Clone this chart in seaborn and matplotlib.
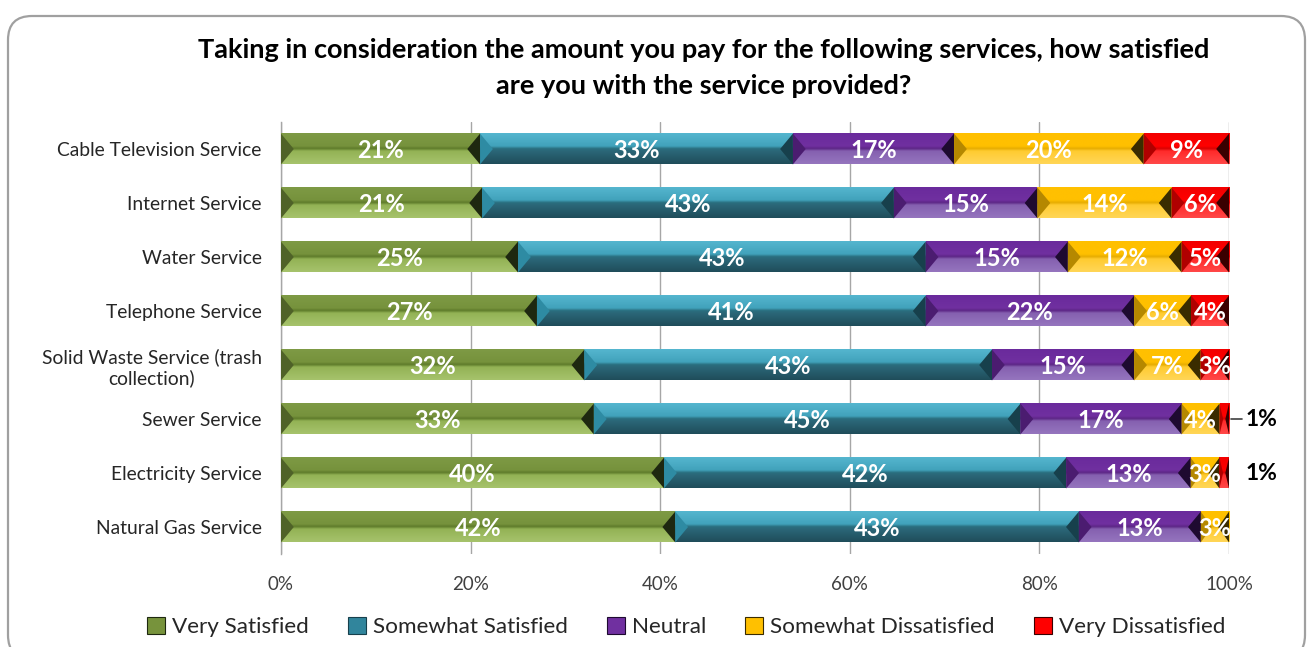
import numpy as np
import pandas as pd
import matplotlib
matplotlib.use("Agg")
import matplotlib.pyplot as plt
import seaborn as sns
from matplotlib.colors import LinearSegmentedColormap
from matplotlib.patches import Polygon, FancyBboxPatch, Patch

# ---------------- data ----------------
services = [
    "Cable Television Service",
    "Internet Service",
    "Water Service",
    "Telephone Service",
    "Solid Waste Service (trash\ncollection)",
    "Sewer Service",
    "Electricity Service",
    "Natural Gas Service",
]
series_names = ["Very Satisfied", "Somewhat Satisfied", "Neutral",
                "Somewhat Dissatisfied", "Very Dissatisfied"]
very_satisfied = [21, 21, 25, 27, 32, 33, 40, 42]
somewhat_satisfied = [33, 43, 43, 41, 43, 45, 42, 43]
neutral = [17, 15, 15, 22, 15, 17, 13, 13]
somewhat_dissatisfied = [20, 14, 12, 6, 7, 4, 3, 3]
very_dissatisfied = [9, 6, 5, 4, 3, 1, 1, 0]
x_ticks = [0, 20, 40, 60, 80, 100]
x_tick_labels = ["0%", "20%", "40%", "60%", "80%", "100%"]
title = ("Taking in consideration the amount you pay for the following services, how satisfied\n"
         "are you with the service provided?")

# ---------------- styles ----------------
styles = [
    dict(grad=["#7E9A45", "#76923C", "#5E7A2A", "#93B255", "#A6C36C"], left="#4F6228", right="#1E2810", main="#77933C"),
    dict(grad=["#55B6CF", "#41A2BB", "#2A6F80", "#2B6778", "#1F4D5A"], left="#2E8BA3", right="#17404C", main="#31859C"),
    dict(grad=["#6A2A9C", "#7030A0", "#5C2585", "#8560B0", "#9575BE"], left="#4B1C70", right="#1E0A30", main="#7030A0"),
    dict(grad=["#FFC000", "#FFC000", "#E6AC00", "#FFCB30", "#FFD658"], left="#B58800", right="#3A2C00", main="#FFC000"),
    dict(grad=["#F20000", "#FF0000", "#D80000", "#FF2A2A", "#FF4848"], left="#B00000", right="#3A0000", main="#FF0000"),
]

sns.set_theme(style="white")
plt.rcParams["font.family"] = ["Lato", "DejaVu Sans"]

df = pd.DataFrame({
    "service": services,
    series_names[0]: very_satisfied,
    series_names[1]: somewhat_satisfied,
    series_names[2]: neutral,
    series_names[3]: somewhat_dissatisfied,
    series_names[4]: very_dissatisfied,
})
vals = df[series_names].to_numpy(dtype=float)
pct = vals / vals.sum(axis=1, keepdims=True) * 100.0
cum = np.cumsum(pct, axis=1)

W, H = 1314, 647
fig = plt.figure(figsize=(W / 100, H / 100), dpi=100)
fig.patch.set_facecolor("white")
ax = fig.add_axes([281 / W, 1 - 554 / H, 948 / W, 432 / H])

bar_h = 0.57
# stacked bars with seaborn: overlay cumulative totals, largest first
for i in reversed(range(len(series_names))):
    d = pd.DataFrame({"service": services, "cum": cum[:, i]})
    sns.barplot(data=d, x="cum", y="service", order=services, orient="h",
                color=styles[i]["main"], saturation=1, width=bar_h,
                edgecolor="none", ax=ax, zorder=2)

ax.set_xlim(0, 100)
ylim = ax.get_ylim()

# bevel shading for each segment
grad = np.linspace(0, 1, 96).reshape(-1, 1)
for i, st in enumerate(styles):
    cmap = LinearSegmentedColormap.from_list(
        "g%d" % i, list(zip([0.0, 0.42, 0.5, 0.58, 1.0], st["grad"])))
    for j in range(len(services)):
        x0 = cum[j, i - 1] if i > 0 else 0.0
        x1 = cum[j, i]
        w = x1 - x0
        if w <= 0.05:
            continue
        top, bot = j - bar_h / 2, j + bar_h / 2
        ax.imshow(grad, cmap=cmap, aspect="auto", origin="upper",
                  extent=[x0, x1, bot, top], zorder=3, interpolation="bilinear")
        dch = min(1.35, w / 2.6)
        ax.add_patch(Polygon([[x0, top], [x0 + dch, j], [x0, bot]], closed=True,
                             facecolor=st["left"], edgecolor="none", zorder=4))
        ax.add_patch(Polygon([[x1, top], [x1 - dch, j], [x1, bot]], closed=True,
                             facecolor=st["right"], edgecolor="none", zorder=4))
        v = int(vals[j, i])
        if v >= 2:
            ax.text((x0 + x1) / 2, j + 0.02, f"{v}%", ha="center", va="center",
                    color="white", fontsize=17, fontweight="bold", zorder=6)
        elif v == 1:
            if services[j] == "Sewer Service":
                ax.plot([100.2, 101.4], [j, j], color="#404040", lw=1.2,
                        clip_on=False, zorder=6)
            ax.text(101.7, j, f"{v}%", ha="left", va="center", color="black",
                    fontsize=16.5, fontweight="bold", clip_on=False, zorder=6)

ax.set_ylim(ylim)
ax.set_xlim(0, 100)

# grid / axes styling
ax.set_xticks(x_ticks)
ax.set_xticklabels(x_tick_labels, fontsize=13.5, color="#404040")
ax.grid(axis="x", color="#A6A6A6", lw=1, zorder=0)
ax.grid(axis="y", visible=False)
ax.set_axisbelow(True)
for s in ["top", "right", "bottom"]:
    ax.spines[s].set_visible(False)
ax.spines["left"].set_color("#A6A6A6")
ax.spines["left"].set_linewidth(1)
ax.tick_params(axis="x", length=0, pad=16)
ax.tick_params(axis="y", length=0, pad=14, labelsize=13.9, labelcolor="#262626")
for lab in ax.get_yticklabels():
    lab.set_multialignment("center")
ax.set_xlabel("")
ax.set_ylabel("")

# title
fig.text(704 / W, 1 - 68.5 / H, title, ha="center", va="center", fontsize=19.5,
         fontweight="bold", color="black", linespacing=1.6)

# legend
handles = [Patch(facecolor=st["main"], edgecolor=st["right"], linewidth=0.8) for st in styles]
fig.legend(handles, series_names, loc="center", bbox_to_anchor=(686 / W, 1 - 627 / H),
           ncol=5, frameon=False, fontsize=16.2, handlelength=0.8, handleheight=0.8,
           handletextpad=0.3, columnspacing=1.75, labelcolor="#262626")

# rounded frame
frame = FancyBboxPatch((8, -12), 1297, H - 8 + 12 - 8,
                       boxstyle="round,pad=0,rounding_size=24",
                       transform=None, facecolor="none", edgecolor="#A0A0A0",
                       linewidth=1.6, zorder=0)
fig.patches.append(frame)

fig.savefig("out.png", dpi=100)
